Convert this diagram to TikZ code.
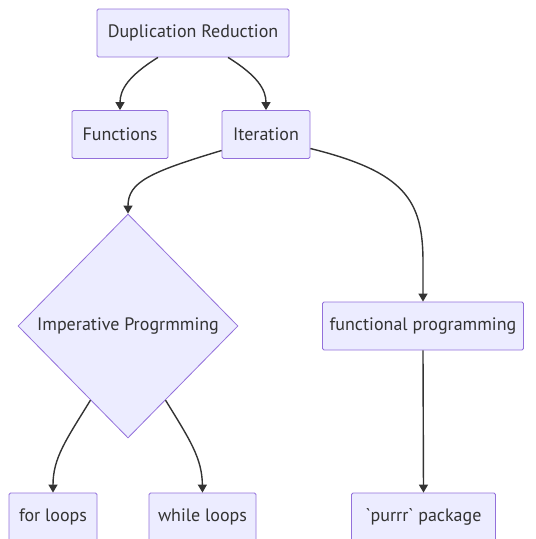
\documentclass[tikz,border=0pt]{standalone}
\usepackage{fontspec}
\setmainfont{PT Sans}
\usetikzlibrary{shapes.geometric,arrows.meta,calc}

\definecolor{boxfill}{HTML}{ECECFF}
\definecolor{boxline}{HTML}{9370DB}
\definecolor{edgeline}{HTML}{333333}

\begin{document}
\begin{tikzpicture}[
x=1pt, y=-1pt,
font=\fontsize{18}{20}\selectfont,
box/.style={draw=boxline, fill=boxfill, text=edgeline, line width=0.8pt,
  rounded corners=1.5pt, minimum height=48pt, inner sep=0pt},
choice/.style={draw=boxline, fill=boxfill, text=edgeline, line width=0.8pt,
  diamond, minimum width=220pt, minimum height=224pt, inner sep=0pt},
link/.style={draw=edgeline, line width=1.4pt, -{Triangle[length=8pt,width=9pt]}}
]
\useasboundingbox (0,0) rectangle (536,539);

\node[box, minimum width=192pt] (dup) at (193,33) {Duplication Reduction};

\node[box, minimum width=96pt] (fun) at (120,134.5) {Functions};
\node[box, minimum width=88pt] (ite) at (266,134.5) {Iteration};

\node[choice] (imp) at (128,326) {Imperative Progrmming};
\node[box, minimum width=201pt] (fpr) at (423,326) {functional programming};

\node[box, minimum width=88pt] (for) at (53,517) {for loops};
\node[box, minimum width=107pt] (whi) at (202.5,517) {while loops};
\node[box, minimum width=144pt] (pur) at (423.5,517) {\textasciigrave purrr\textasciigrave{} package};

\draw[link] ($(dup.south)+(-35,0)$) .. controls (128,76) and (120,90) .. (fun.north);
\draw[link] ($(dup.south)+(35,0)$) .. controls (258,76) and (266,90) .. (ite.north);

\draw[link] ($(ite.west)+(0,16)$) .. controls (150,172) and (128,182) .. (imp.north);
\draw[link] ($(ite.east)+(0,14)$) .. controls (405,172) and (423,200) .. (423,262) -- (fpr.north);

\draw[link] ($(imp.west)!0.66!(imp.south)$) .. controls (66,440) and (53,458) .. (for.north);
\draw[link] ($(imp.east)!0.66!(imp.south)$) .. controls (190,440) and (202,458) .. (whi.north);
\draw[link] (fpr.south) -- (pur.north);

\end{tikzpicture}
\end{document}
